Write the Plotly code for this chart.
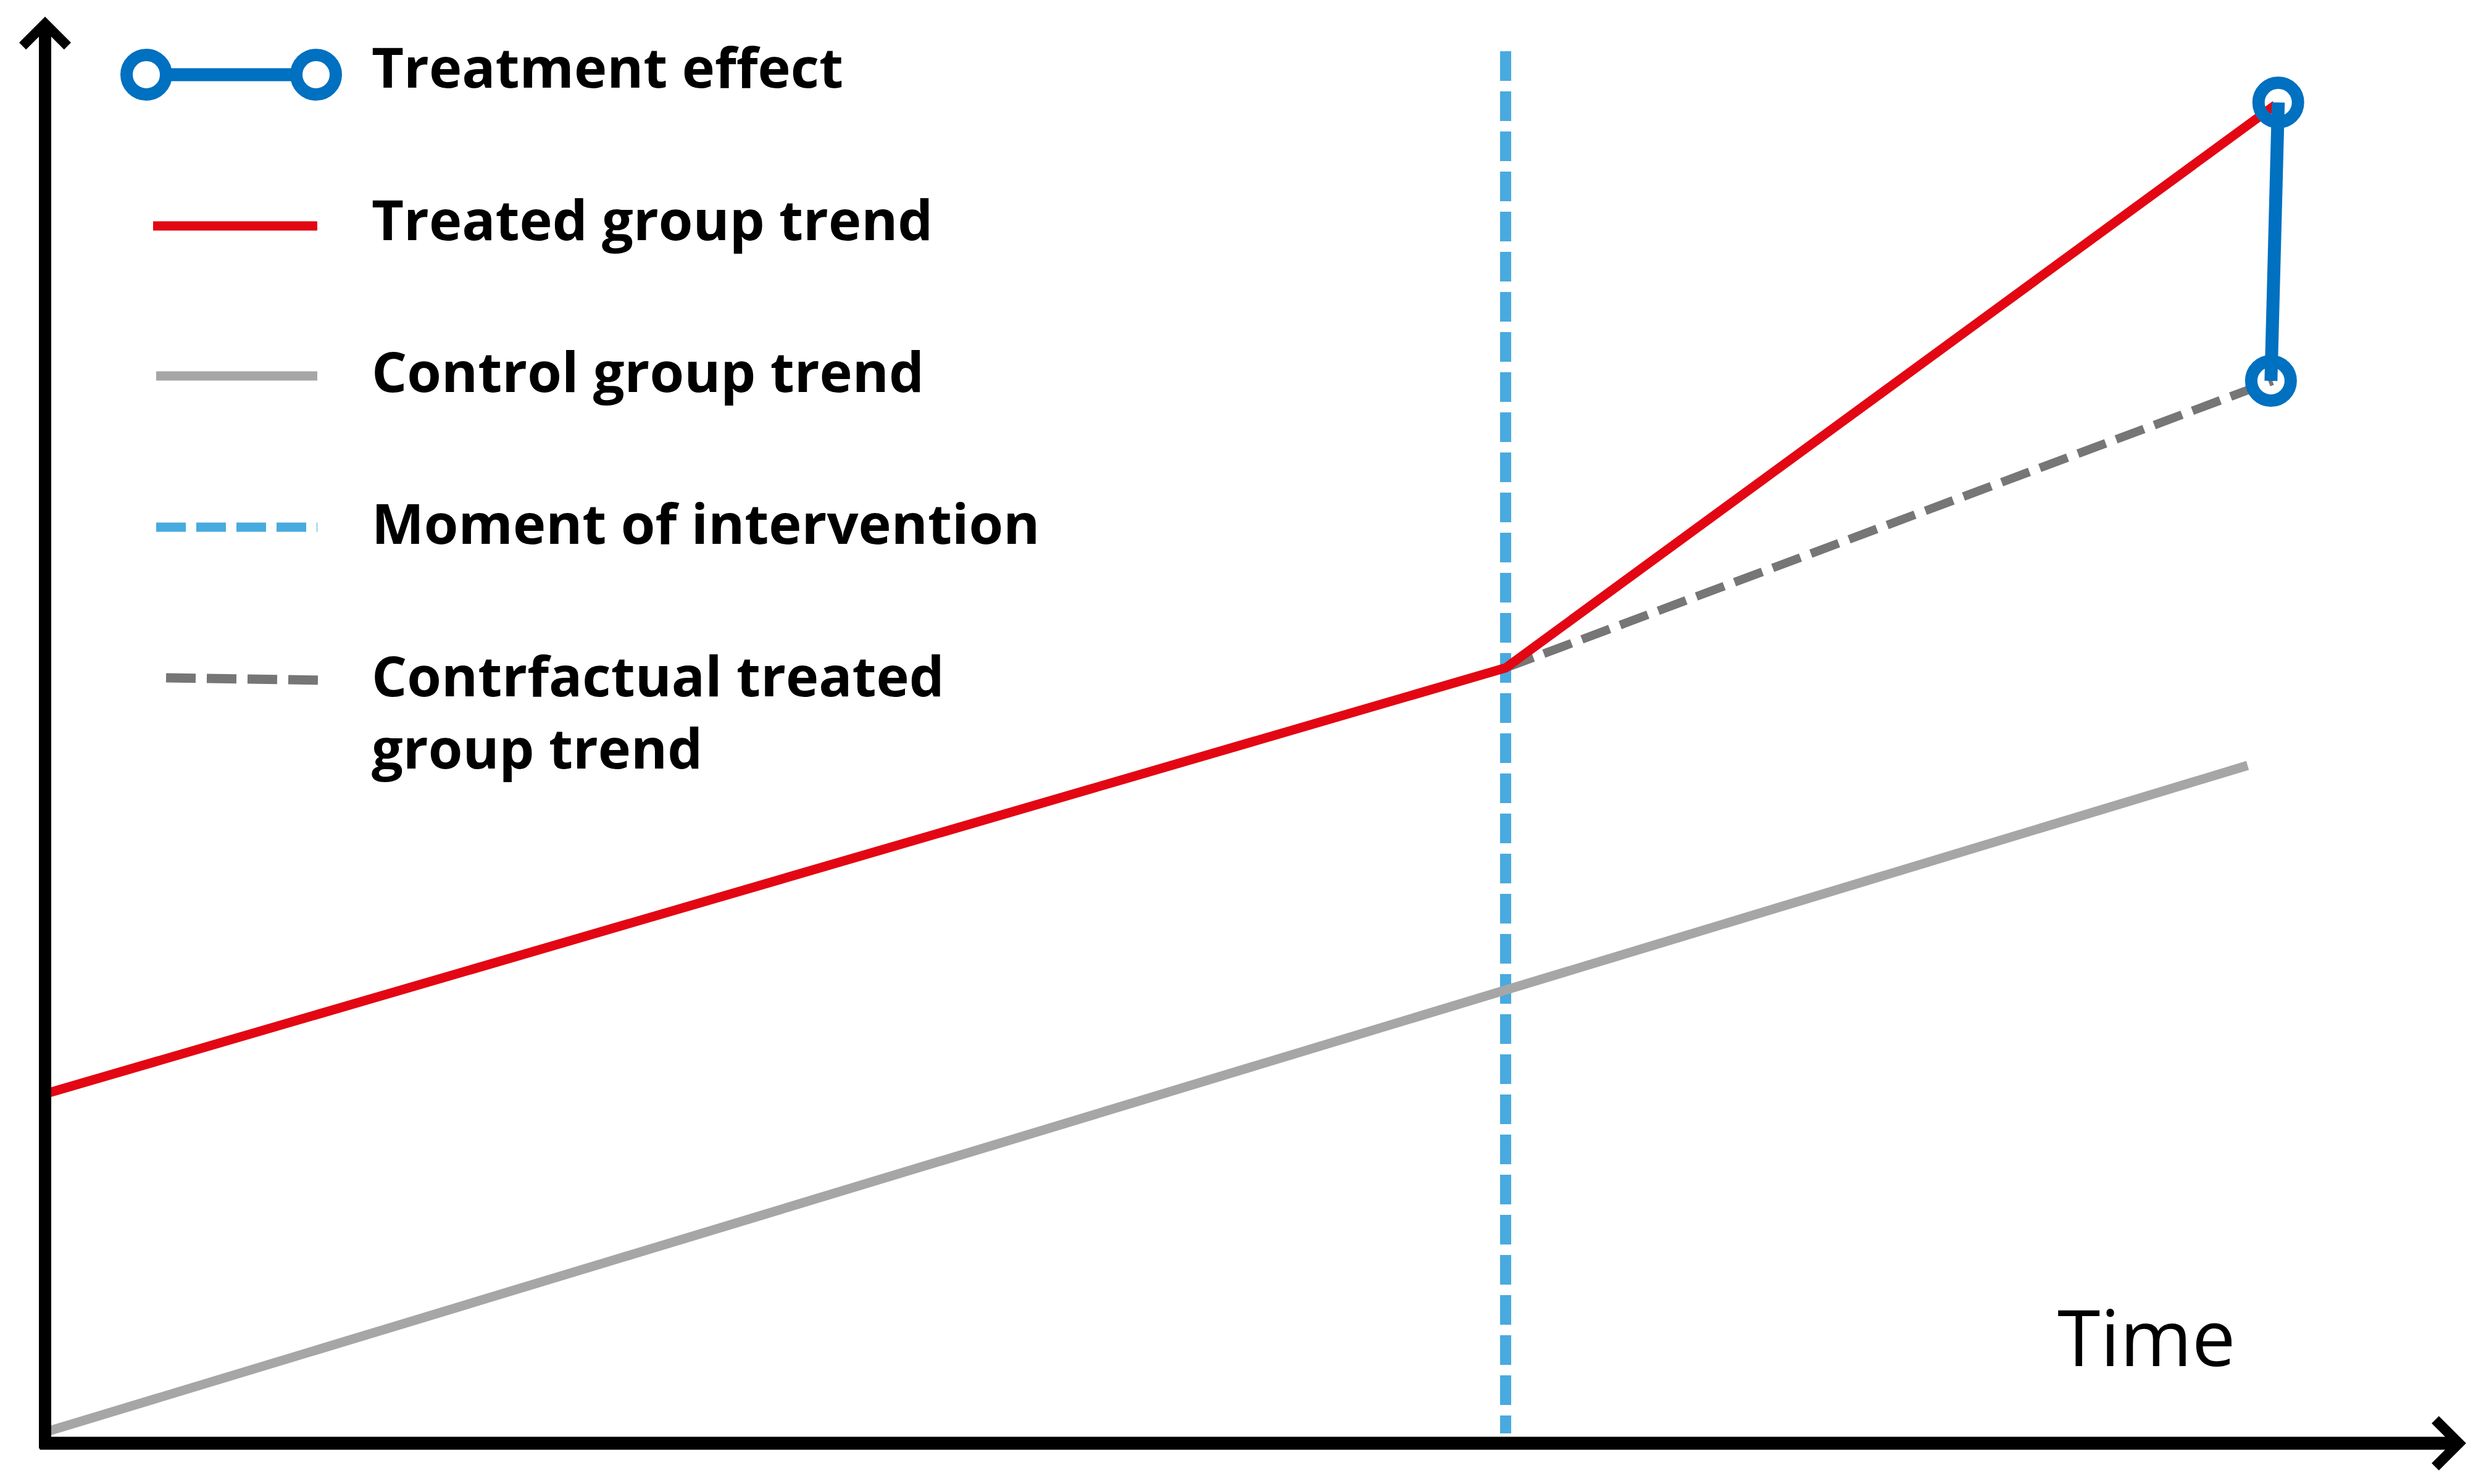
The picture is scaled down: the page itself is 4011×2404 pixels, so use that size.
import plotly.graph_objects as go

# ---------------- data (time in arbitrary units, outcome in arbitrary units) ----------------
time_treated = [0.0, 10.0, 15.27]
value_treated = [5.66, 12.56, 21.68]

time_control = [0.0, 15.08]
value_control = [0.18, 10.98]

time_counterfactual = [10.0, 15.25]
value_counterfactual = [12.56, 17.21]

time_effect = [15.29, 15.24]
value_effect = [21.72, 17.21]

time_intervention = [10.0, 10.0]
value_intervention = [22.55, 0.16]

legend_labels = [
    "Treatment effect",
    "Treated group trend",
    "Control group trend",
    "Moment of intervention",
    "Contrfactual treated<br>group trend",
]
axis_label = "Time"

# ---------------- styling ----------------
PAGE_W, PAGE_H = 4011, 2404
OFF = 8  # default body margin of the html page
W, H = PAGE_W - 2 * OFF, PAGE_H - 2 * OFF
BLUE = "#0070C0"
RED = "#E30613"
GRAY = "#A6A6A6"
DARK_GRAY = "#767676"
LIGHT_BLUE = "#48AADF"
FONT = "Open Sans"

X_RANGE = [-0.2747, 16.610]
Y_RANGE = [-0.58, 23.30]


def px(x):
    return (x - OFF) / W


def py(y):
    return 1 - (y - OFF) / H


fig = go.Figure()

fig.add_trace(go.Scatter(x=time_intervention, y=value_intervention, mode="lines",
                         line=dict(color=LIGHT_BLUE, width=18, dash="48px,17px"),
                         showlegend=False, hoverinfo="skip"))
fig.add_trace(go.Scatter(x=time_control, y=value_control, mode="lines",
                         line=dict(color=GRAY, width=15),
                         showlegend=False, hoverinfo="skip"))
fig.add_trace(go.Scatter(x=time_counterfactual, y=value_counterfactual, mode="lines",
                         line=dict(color=DARK_GRAY, width=14, dash="48px,18px"),
                         showlegend=False, hoverinfo="skip"))
fig.add_trace(go.Scatter(x=time_treated, y=value_treated, mode="lines",
                         line=dict(color=RED, width=15),
                         showlegend=False, hoverinfo="skip"))
fig.add_trace(go.Scatter(x=time_effect, y=value_effect, mode="lines+markers",
                         line=dict(color=BLUE, width=21),
                         marker=dict(symbol="circle-open", size=64, color=BLUE,
                                     line=dict(width=20, color=BLUE)),
                         showlegend=False, hoverinfo="skip"))

shapes = []
# legend icons
# treatment effect
shapes.append(dict(type="line", xref="paper", yref="paper",
                   x0=px(237), x1=px(512), y0=py(121), y1=py(121),
                   line=dict(color=BLUE, width=21)))
for cx in (237, 512):
    shapes.append(dict(type="circle", xref="paper", yref="paper",
                       x0=px(cx - 32), x1=px(cx + 32), y0=py(121 - 32), y1=py(121 + 32),
                       line=dict(color=BLUE, width=20), fillcolor="white"))
# treated
shapes.append(dict(type="line", xref="paper", yref="paper",
                   x0=px(248), x1=px(514), y0=py(366), y1=py(366),
                   line=dict(color=RED, width=15)))
# control
shapes.append(dict(type="line", xref="paper", yref="paper",
                   x0=px(253), x1=px(514), y0=py(609), y1=py(609),
                   line=dict(color=GRAY, width=15)))
# intervention
shapes.append(dict(type="line", xref="paper", yref="paper",
                   x0=px(253), x1=px(514), y0=py(854), y1=py(854),
                   line=dict(color=LIGHT_BLUE, width=15, dash="48px,17px")))
# counterfactual
shapes.append(dict(type="line", xref="paper", yref="paper",
                   x0=px(269), x1=px(532), y0=py(1098), y1=py(1102),
                   line=dict(color=DARK_GRAY, width=15, dash="48px,18px")))

annotations = []
# legend text
baselines = [142, 389, 635, 881, 1128]
fs = 90
for lab, b in zip(legend_labels, baselines):
    nlines = lab.count("<br>") + 1
    top = b - 1.069 * fs
    bottom = b + (nlines - 1) * 1.3 * fs + 0.293 * fs
    annotations.append(dict(text="<b>%s</b>" % lab, x=px(600), y=py((top + bottom) / 2),
                            xref="paper", yref="paper", xanchor="left", yanchor="middle",
                            align="left", showarrow=False,
                            font=dict(family=FONT, size=fs, color="black")))
# axis label
annotations.append(dict(text=axis_label, x=px(3331), y=py(2213 - 0.388 * 126),
                        xref="paper", yref="paper", xanchor="left", yanchor="middle",
                        showarrow=False, font=dict(family=FONT, size=126, color="black")))
# axes with chevron arrows
annotations.append(dict(text="", x=px(3995), y=py(2338), xref="paper", yref="paper",
                        ax=-(3995 - 63), ay=0, showarrow=True, arrowhead=4,
                        arrowsize=0.7, arrowwidth=21, arrowcolor="black"))
annotations.append(dict(text="", x=px(73), y=py(27), xref="paper", yref="paper",
                        ax=0, ay=(2348 - 27), showarrow=True, arrowhead=4,
                        arrowsize=0.7, arrowwidth=20, arrowcolor="black"))

fig.update_layout(
    width=W, height=H,
    margin=dict(l=0, r=0, t=0, b=0),
    paper_bgcolor="white", plot_bgcolor="white",
    xaxis=dict(range=X_RANGE, visible=False, fixedrange=True),
    yaxis=dict(range=Y_RANGE, visible=False, fixedrange=True),
    shapes=shapes, annotations=annotations,
    showlegend=False,
)

fig.write_html("out.html")
